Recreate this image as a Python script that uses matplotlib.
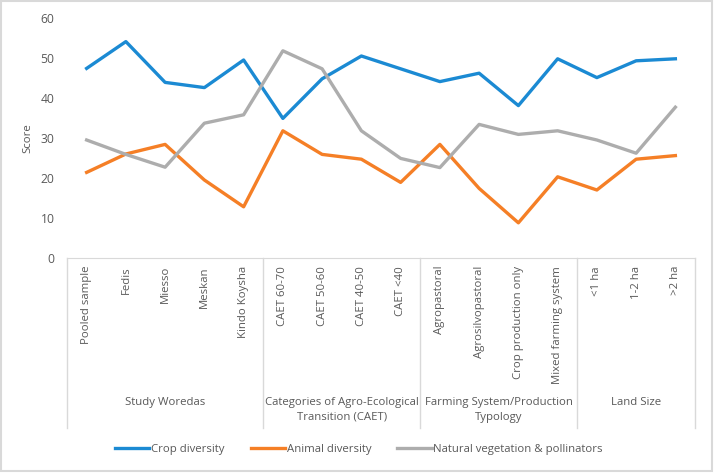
import matplotlib.pyplot as plt
from matplotlib.transforms import blended_transform_factory
from matplotlib.patches import Rectangle

plt.rcParams['font.family'] = ['Open Sans', 'DejaVu Sans']

# categories and group labels
categories = ['Pooled sample', 'Fedis', 'Miesso', 'Meskan', 'Kindo Koysha',
              'CAET 60-70', 'CAET 50-60', 'CAET 40-50', 'CAET <40',
              'Agropastoral', 'Agrosilvopastoral', 'Crop production only', 'Mixed farming system',
              '<1 ha', '1-2 ha', '>2 ha']
groups = ['Study Woredas', 'Categories of Agro-Ecological\nTransition (CAET)',
          'Farming System/Production\nTypology', 'Land Size']
group_sizes = [5, 4, 4, 3]

crop = [47.4, 54.1, 43.9, 42.6, 49.5, 34.9, 44.8, 50.5, 47.3,
        44.1, 46.2, 38.1, 49.8, 45.1, 49.3, 49.8]
animal = [21.4, 26.0, 28.4, 19.5, 12.8, 31.8, 25.9, 24.7, 18.9,
          28.4, 17.4, 8.8, 20.3, 17.0, 24.7, 25.6]
natural = [29.5, 25.9, 22.7, 33.7, 35.8, 51.8, 47.3, 31.8, 24.9,
           22.6, 33.4, 30.9, 31.8, 29.5, 26.2, 37.7]

txt = '#595959'
grid_c = '#d9d9d9'
fs = 8.2

fig = plt.figure(figsize=(7.14, 4.73), dpi=100)
fig.patches.append(Rectangle((0.002, 0.004), 0.995, 0.993, transform=fig.transFigure,
                             fill=False, edgecolor='#d9d9d9', linewidth=1.5))
ax = fig.add_axes([67 / 714, 1 - 258 / 473, 628 / 714, 240 / 473])

x = list(range(len(categories)))
ax.plot(x, crop, color='#1b8ad3', linewidth=2.4, label='Crop diversity')
ax.plot(x, animal, color='#f57f26', linewidth=2.4, label='Animal diversity')
ax.plot(x, natural, color='#adadad', linewidth=2.4, label='Natural vegetation & pollinators')

ax.set_xlim(-0.5, len(categories) - 0.5)
ax.set_ylim(0, 60)
ax.set_yticks(range(0, 61, 10))
ax.tick_params(axis='y', length=0, pad=9, labelsize=fs + 0.5, labelcolor=txt)
ax.set_ylabel('Score', color=txt, fontsize=fs, labelpad=5)
ax.set_xticks([])
for s in ['top', 'right', 'left']:
    ax.spines[s].set_visible(False)
ax.spines['bottom'].set_color(grid_c)

# multi-level category axis
tr = blended_transform_factory(ax.transData, ax.transAxes)
bottom = -170 / 240
for i, c in enumerate(categories):
    ax.text(i, -8 / 240, c, transform=tr, rotation=90, ha='center', va='top',
            fontsize=fs, color=txt)
edges = [-0.5]
for n in group_sizes:
    edges.append(edges[-1] + n)
for e in edges:
    ax.plot([e, e], [0, bottom], transform=tr, color=grid_c, linewidth=1, clip_on=False)
for g, a, b in zip(groups, edges[:-1], edges[1:]):
    ax.text((a + b) / 2, -139 / 240, g, transform=tr, ha='center', va='top',
            fontsize=fs, color=txt, linespacing=1.45)

leg = fig.legend(loc='center', bbox_to_anchor=(359 / 714, 1 - 449 / 473), ncol=3, frameon=False,
                 fontsize=fs, handlelength=3.0, handletextpad=0.15, columnspacing=2.3)
for t in leg.get_texts():
    t.set_color(txt)

plt.savefig('out.png', dpi=100)
